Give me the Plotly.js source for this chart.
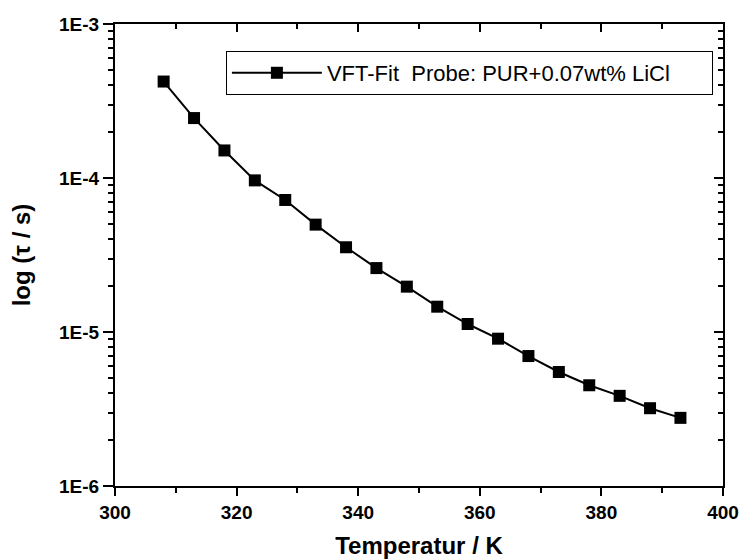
<!DOCTYPE html>
<html>
<head>
<meta charset="utf-8">
<script src="https://cdn.plot.ly/plotly-3.0.1.min.js"></script>
<style>html,body{margin:0;padding:0;background:#fff;}#chart{width:749px;height:560px;}</style>
</head>
<body>
<div id="chart"></div>
<script>
// Data
const temperature = [308, 313, 318, 323, 328, 333, 338, 343, 348, 353, 358, 363, 368, 373, 378, 383, 388, 393];
const tau = [4.23e-4, 2.45e-4, 1.51e-4, 9.65e-5, 7.2e-5, 4.98e-5, 3.55e-5, 2.60e-5, 1.97e-5, 1.46e-5, 1.127e-5, 9.05e-6, 6.98e-6, 5.5e-6, 4.51e-6, 3.85e-6, 3.2e-6, 2.77e-6];
const yTickVals = [1e-6, 1e-5, 1e-4, 1e-3];
const yTickText = ['1E-6', '1E-5', '1E-4', '1E-3'];
const seriesName = 'VFT-Fit&nbsp; Probe: PUR+0.07wt% LiCl';
// invisible right padding so the legend box is as wide as in the reference
const legendPad = '&nbsp;&nbsp;&nbsp;&nbsp;&nbsp;&nbsp;';

const FONT = 'Arial, "Liberation Sans", sans-serif';
const boldTick = {family: FONT, size: 19, color: '#000', weight: 'bold'};

const traces = [
  {
    x: temperature, y: tau, type: 'scatter', mode: 'lines+markers',
    name: seriesName + legendPad,
    line: {color: '#000', width: 2},
    marker: {symbol: 'square', size: 12, color: '#000'},
    hoverinfo: 'x+y'
  },
  {
    x: temperature, y: tau, xaxis: 'x2', yaxis: 'y2', type: 'scatter', mode: 'markers',
    marker: {opacity: 0}, showlegend: false, hoverinfo: 'skip'
  }
];

const layout = {
  width: 749, height: 560,
  margin: {l: 115, r: 25.5, t: 23.5, b: 73.5},
  paper_bgcolor: '#fff', plot_bgcolor: '#fff',
  font: {family: FONT, color: '#000'},
  showlegend: true,
  legend: {
    x: 0.1824, y: 0.9416, xanchor: 'left', yanchor: 'top',
    bordercolor: '#000', borderwidth: 1, bgcolor: '#fff',
    font: {family: FONT, size: 22, color: '#000'},
    itemwidth: 90
  },
  xaxis: {
    range: [300, 400], dtick: 20, tick0: 300,
    ticks: 'outside', ticklen: 8, tickwidth: 2, tickcolor: '#000',
    showline: true, linewidth: 2, linecolor: '#000',
    showgrid: false, zeroline: false,
    tickfont: boldTick,
    minor: {dtick: 10, ticks: 'outside', ticklen: 5, tickwidth: 2, tickcolor: '#000', showgrid: false},
    title: {text: 'Temperatur / K', font: {family: FONT, size: 24, color: '#000', weight: 'bold'}, standoff: 15}
  },
  yaxis: {
    type: 'log', range: [-6, -3],
    tickmode: 'array', tickvals: yTickVals, ticktext: yTickText,
    ticks: 'outside', ticklen: 10, tickwidth: 2, tickcolor: '#000',
    showline: true, linewidth: 2, linecolor: '#000',
    showgrid: false, zeroline: false,
    tickfont: boldTick,
    minor: {dtick: 'D1', ticks: 'outside', ticklen: 5, tickwidth: 2, tickcolor: '#000', showgrid: false},
    title: {text: 'log (τ / s)', font: {family: FONT, size: 24, color: '#000', weight: 'bold'}, standoff: 22}
  },
  xaxis2: {
    overlaying: 'x', side: 'top', anchor: 'y2', matches: 'x',
    range: [300, 400], dtick: 20, tick0: 300,
    ticks: 'inside', ticklen: 8, tickwidth: 2, tickcolor: '#000',
    showline: true, linewidth: 2, linecolor: '#000',
    showticklabels: false, showgrid: false, zeroline: false,
    minor: {dtick: 10, ticks: 'inside', ticklen: 5, tickwidth: 2, tickcolor: '#000', showgrid: false}
  },
  yaxis2: {
    overlaying: 'y', side: 'right', anchor: 'x2', type: 'log', range: [-6, -3],
    tickmode: 'array', tickvals: yTickVals,
    ticks: 'inside', ticklen: 9, tickwidth: 2, tickcolor: '#000',
    showline: true, linewidth: 2, linecolor: '#000',
    showticklabels: false, showgrid: false, zeroline: false,
    minor: {dtick: 'D1', ticks: 'inside', ticklen: 5, tickwidth: 2, tickcolor: '#000', showgrid: false}
  }
};

Plotly.newPlot('chart', traces, layout, {displayModeBar: false, staticPlot: true});
</script>
</body>
</html>
